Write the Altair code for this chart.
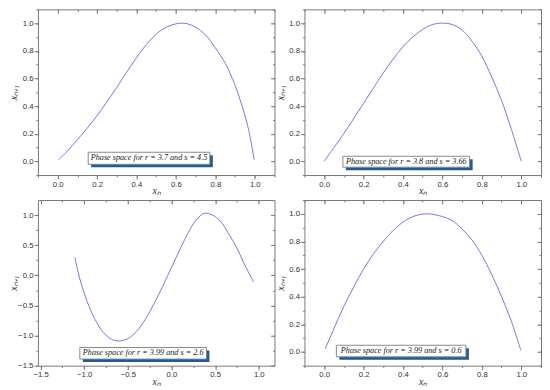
import altair as alt
import pandas as pd

# ---------------- data ----------------
x1 = [0.005, 0.05, 0.10, 0.15, 0.20, 0.25, 0.30, 0.35, 0.40, 0.45, 0.50, 0.55, 0.60, 0.63, 0.66, 0.70, 0.75, 0.80, 0.85, 0.90, 0.94, 0.97, 0.997]
y1 = [0.01, 0.075, 0.155, 0.24, 0.33, 0.43, 0.535, 0.645, 0.75, 0.845, 0.92, 0.97, 0.995, 1.0, 0.995, 0.97, 0.915, 0.82, 0.71, 0.55, 0.38, 0.22, 0.01]

x2 = [0.0, 0.05, 0.10, 0.15, 0.20, 0.25, 0.30, 0.35, 0.40, 0.45, 0.50, 0.55, 0.60, 0.65, 0.70, 0.75, 0.80, 0.85, 0.90, 0.95, 1.0]
y2 = [0.0, 0.10, 0.20, 0.31, 0.42, 0.53, 0.64, 0.74, 0.83, 0.90, 0.955, 0.99, 1.0, 0.99, 0.95, 0.87, 0.76, 0.61, 0.44, 0.23, 0.0]

x3 = [-1.107, -1.05, -0.97, -0.88, -0.78, -0.69, -0.60, -0.50, -0.40, -0.30, -0.20, -0.10, 0.0, 0.10, 0.20, 0.29, 0.38, 0.47, 0.56, 0.65, 0.74, 0.83, 0.94]
y3 = [0.30, -0.06, -0.42, -0.72, -0.95, -1.06, -1.09, -1.05, -0.93, -0.73, -0.47, -0.18, 0.13, 0.44, 0.73, 0.93, 1.03, 1.00, 0.90, 0.70, 0.48, 0.20, -0.11]

x4 = [0.005, 0.05, 0.10, 0.15, 0.20, 0.25, 0.30, 0.35, 0.40, 0.45, 0.52, 0.60, 0.65, 0.70, 0.75, 0.80, 0.85, 0.90, 0.95, 0.998]
y4 = [0.02, 0.17, 0.33, 0.47, 0.60, 0.71, 0.80, 0.88, 0.94, 0.98, 1.0, 0.98, 0.95, 0.89, 0.81, 0.70, 0.56, 0.40, 0.22, 0.01]

labels = [
    "Phase space for r = 3.7 and s = 4.5",
    "Phase space for r = 3.8 and s = 3.66",
    "Phase space for r = 3.99 and s = 2.6",
    "Phase space for r = 3.99 and s = 0.6",
]

unit_ticks = [0.0, 0.2, 0.4, 0.6, 0.8, 1.0]
unit_minor = [-0.1, 0.0, 0.1, 0.2, 0.3, 0.4, 0.5, 0.6, 0.7, 0.8, 0.9, 1.0, 1.1]
wide_ticks = [-1.5, -1.0, -0.5, 0.0, 0.5, 1.0]
wide_minor = [-1.5, -1.25, -1.0, -0.75, -0.5, -0.25, 0.0, 0.25, 0.5, 0.75, 1.0]

# ---------------- styling ----------------
LINE = "#7777e0"
FRAME = "#7a7a7a"
SHADOW = "#1d5c94"
W, H = 237, 166
LABEL_FONT = "Liberation Sans"
SERIF = "Liberation Serif"


def panel(xs, ys, xdom, ydom, xmaj, xmin, ymaj, ymin, text, box):
    df = pd.DataFrame({"x": xs, "y": ys})
    xs_ = alt.Scale(domain=xdom, nice=False, zero=False)
    ys_ = alt.Scale(domain=ydom, nice=False, zero=False)

    def ax(orient, values, labels, size, offset=0, title=None):
        kw = dict(orient=orient, values=values, labels=labels, tickSize=size,
                  tickColor=FRAME, tickWidth=1, domain=False, grid=False, offset=offset,
                  minExtent=0)
        if labels:
            kw.update(labelFont=LABEL_FONT, labelFontSize=7.8, labelColor="#333",
                      labelPadding=1, format=".1f")
        if title is not None:
            kw.update(title=title, titleFont=SERIF, titleFontStyle="italic",
                      titleFontWeight="normal", titleFontSize=10, titleColor="#333")
            if orient == "left":
                kw.update(titleX=-19)
            else:
                kw.update(titlePadding=-2)
        else:
            kw.update(title=None)
        return alt.Axis(**kw)

    line = alt.Chart(df).mark_line(color=LINE, strokeWidth=1, interpolate="catmull-rom").encode(
        x=alt.X("x:Q", scale=xs_, axis=ax("bottom", xmaj, True, 4, title="xₙ")),
        y=alt.Y("y:Q", scale=ys_, axis=ax("left", ymaj, True, 4, title="xₙ₊₁")),
    )

    def dummy(xa, ya):
        return alt.Chart(df).mark_point(opacity=0).encode(
            x=alt.X("x:Q", scale=xs_, axis=xa),
            y=alt.Y("y:Q", scale=ys_, axis=ya),
        )

    d1 = dummy(ax("bottom", xmin, False, 2), ax("left", ymin, False, 2))
    d2 = dummy(ax("top", xmaj, False, 4, offset=-4), ax("right", ymaj, False, 4, offset=-4))
    d3 = dummy(ax("top", xmin, False, 2, offset=-2), ax("right", ymin, False, 2, offset=-2))

    bx = pd.DataFrame({"x0": [box[0]], "x1": [box[1]], "y0": [box[2]], "y1": [box[3]],
                       "xc": [(box[0] + box[1]) / 2], "yc": [(box[2] + box[3]) / 2],
                       "t": [text]})
    enc = dict(x=alt.X("x0:Q", scale=xs_, axis=None), x2="x1:Q",
               y=alt.Y("y0:Q", scale=ys_, axis=None), y2="y1:Q")
    shadow = alt.Chart(bx).mark_rect(fill=SHADOW, xOffset=3, x2Offset=3,
                                     yOffset=3, y2Offset=3).encode(**enc)
    rect = alt.Chart(bx).mark_rect(fill="white", stroke="#8a8a8a", strokeWidth=1).encode(**enc)
    txt = alt.Chart(bx).mark_text(font=SERIF, fontStyle="italic", fontSize=8.2,
                                  color="#222", align="center", baseline="middle").encode(
        x=alt.X("xc:Q", scale=xs_, axis=None), y=alt.Y("yc:Q", scale=ys_, axis=None),
        text="t:N")

    return alt.layer(line, d1, d2, d3, shadow, rect, txt).resolve_axis(
        x="independent", y="independent").properties(width=W, height=H)


p1 = panel(x1, y1, [-0.1, 1.1], [-0.1, 1.1], unit_ticks, unit_minor, unit_ticks, unit_minor,
           labels[0], [0.155, 0.772, 0.065, -0.022])
p2 = panel(x2, y2, [-0.1, 1.1], [-0.1, 1.1], unit_ticks, unit_minor, unit_ticks, unit_minor,
           labels[1], [0.095, 0.738, 0.036, -0.043])
p3 = panel(x3, y3, [-1.53, 1.18], [-1.5, 1.25], wide_ticks, wide_minor, wide_ticks, wide_minor,
           labels[2], [-1.05, 0.40, -1.198, -1.39])
p4 = panel(x4, y4, [-0.1, 1.1], [-0.1, 1.1], unit_ticks, unit_minor, unit_ticks, unit_minor,
           labels[3], [0.062, 0.719, 0.048, -0.036])

chart = alt.concat(
    p1, p2, p3, p4, columns=2,
    spacing={"row": 25, "column": 30}, bounds="flush",
).properties(padding=0, background="white").configure_view(
    stroke=FRAME, strokeWidth=1
)

chart.save("out.html", embed_options={"renderer": "svg", "actions": False})
